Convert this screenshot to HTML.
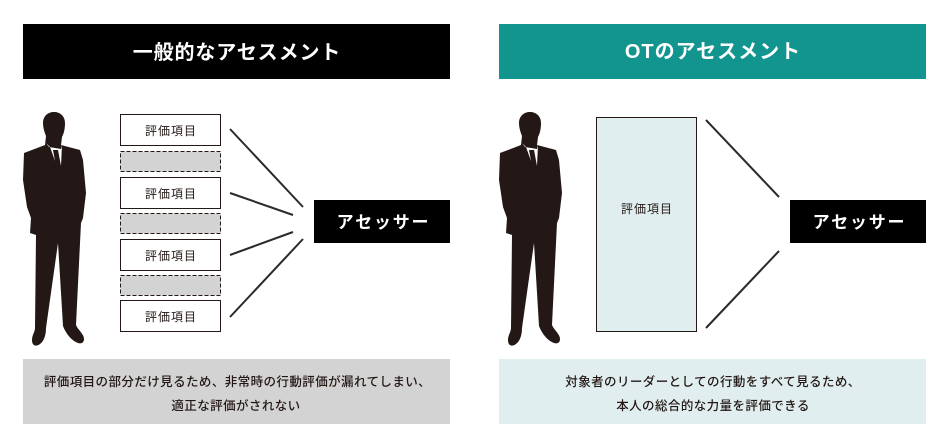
<!DOCTYPE html>
<html lang="ja">
<head>
<meta charset="utf-8">
<style>
html,body{margin:0;padding:0;background:#fff}
body{width:950px;height:448px;position:relative;overflow:hidden;font-family:"Liberation Sans","Noto Sans CJK JP",sans-serif;color:#000}
svg{position:absolute;left:0;top:0}
</style>
</head>
<body>
<svg width="950" height="448" viewBox="0 0 950 448" xmlns="http://www.w3.org/2000/svg">
<defs>
<g id="p">
<path fill="#231815" d="M54 112C60 112 65 116 65 123C65 129 64 133 62 137L61 145L80 150L83 160L86 193L83 218L81 223L80 243L76 325C78 330 84 334 84 339C84 343 81 344 78 343C72 341 66 334 63 326L58 243L46 328C46 335 44 341 40 344C36 347 32 346 32 340C32 335 35 332 35 328L36 235L30 233L31 218L27 207L23 180L24 153L45 145L46 136C44 131 43 127 43 123C43 116 48 112 54 112Z"/>
<path fill="#fff" d="M46 143L50 147L55 161L53 150L58 150L61 166L62 145L61 149L49 147Z"/>
</g>
<g id="a">
<rect x="0" y="0" width="136" height="43" fill="#000"/>
<text x="69.5" y="28" font-size="17" font-weight="700" fill="#fff" text-anchor="middle" letter-spacing="1.8">アセッサー</text>
</g>
</defs>

<rect x="23" y="24" width="427" height="55" fill="#000"/>
<text x="237" y="59" font-size="20" font-weight="700" fill="#fff" text-anchor="middle" letter-spacing="0.9">一般的なアセスメント</text>
<rect x="499" y="24" width="427" height="55" fill="#13958f"/>
<text x="713" y="58" font-size="20" font-weight="700" fill="#fff" text-anchor="middle" letter-spacing="1">OTのアセスメント</text>

<use href="#p"/>
<use href="#p" x="476"/>

<g fill="#fff" stroke="#231815" stroke-width="1">
<rect x="120.5" y="114.5" width="100" height="31"/>
<rect x="120.5" y="177.5" width="100" height="31"/>
<rect x="120.5" y="239.5" width="100" height="31"/>
<rect x="120.5" y="300.5" width="100" height="31"/>
</g>
<g fill="#d3d3d3" stroke="#231815" stroke-width="1" stroke-dasharray="4 2">
<rect x="120.5" y="151.5" width="100" height="20"/>
<rect x="120.5" y="213.5" width="100" height="20"/>
<rect x="120.5" y="275.5" width="100" height="20"/>
</g>

<rect x="596.5" y="117.5" width="100" height="214" fill="#e0eef0" stroke="#231815" stroke-width="1"/>

<g font-size="12" fill="#231815" text-anchor="middle" letter-spacing="1">
<text x="171" y="135">評価項目</text>
<text x="171" y="198">評価項目</text>
<text x="171" y="260">評価項目</text>
<text x="171" y="321">評価項目</text>
<text x="647" y="213">評価項目</text>
</g>

<g stroke="#2a2a2a" stroke-width="2" fill="none">
<line x1="230" y1="129" x2="303" y2="207"/>
<line x1="230" y1="193" x2="293" y2="215"/>
<line x1="230" y1="255" x2="293" y2="232"/>
<line x1="230" y1="317" x2="303" y2="239"/>
<line x1="706" y1="120" x2="779" y2="197"/>
<line x1="706" y1="328" x2="779" y2="251"/>
</g>

<use href="#a" x="314" y="200"/>
<use href="#a" x="790" y="200"/>

<rect x="23" y="359" width="427" height="65" fill="#d3d3d3"/>
<rect x="499" y="359" width="427" height="65" fill="#e0eef0"/>
<g font-size="12.5" font-weight="500" fill="#231815" text-anchor="middle" letter-spacing="0.42">
<text x="237.5" y="386">評価項目の部分だけ見るため、非常時の行動評価が漏れてしまい、</text>
<text x="236" y="410">適正な評価がされない</text>
<text x="713" y="386">対象者のリーダーとしての行動をすべて見るため、</text>
<text x="713" y="410">本人の総合的な力量を評価できる</text>
</g>
</svg>
</body>
</html>
